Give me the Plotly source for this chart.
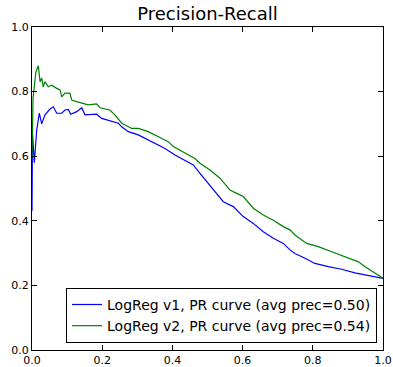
import plotly.graph_objects as go

# LogReg v1 (blue)
recall_v1 = [0.0, 0.0014, 0.0066, 0.0134, 0.0208, 0.0276, 0.037, 0.0513, 0.0607, 0.0704,
             0.0846, 0.094, 0.1034, 0.1103, 0.1274, 0.1416, 0.151, 0.170, 0.184, 0.1986,
             0.222, 0.246, 0.2556, 0.2744, 0.3028, 0.3313, 0.3598, 0.3789, 0.4074, 0.4359,
             0.4595, 0.4786, 0.4977, 0.5165, 0.545, 0.5735, 0.602, 0.6305, 0.659, 0.6875,
             0.716, 0.735, 0.749, 0.778, 0.806, 0.844, 0.882, 0.920, 0.958, 1.0]
precision_v1 = [0.43, 0.67, 0.58, 0.681, 0.733, 0.70, 0.728, 0.746, 0.753, 0.733,
                0.733, 0.743, 0.745, 0.73, 0.738, 0.75, 0.728, 0.73, 0.73, 0.717,
                0.709, 0.702, 0.691, 0.676, 0.666, 0.650, 0.635, 0.624, 0.604, 0.588,
                0.573, 0.547, 0.521, 0.495, 0.459, 0.444, 0.413, 0.392, 0.366, 0.346,
                0.330, 0.310, 0.299, 0.284, 0.268, 0.258, 0.250, 0.239, 0.232, 0.222]

# LogReg v2 (green)
recall_v2 = [0.0, 0.001, 0.003, 0.011, 0.018, 0.023, 0.0276, 0.032, 0.037, 0.0464,
             0.056, 0.0704, 0.080, 0.0846, 0.094, 0.108, 0.113, 0.127, 0.146, 0.160,
             0.184, 0.194, 0.222, 0.236, 0.2556, 0.284, 0.303, 0.331, 0.360, 0.388,
             0.4026, 0.431, 0.464, 0.4786, 0.507, 0.5356, 0.564, 0.583, 0.602, 0.6305,
             0.659, 0.6875, 0.716, 0.735, 0.749, 0.7826, 0.8157, 0.854, 0.892, 0.930,
             0.949, 0.977, 1.0]
precision_v2 = [0.60, 0.72, 0.78, 0.86, 0.88, 0.83, 0.842, 0.815, 0.831, 0.815,
                0.82, 0.81, 0.805, 0.784, 0.795, 0.795, 0.774, 0.769, 0.764, 0.759,
                0.762, 0.75, 0.743, 0.728, 0.702, 0.686, 0.686, 0.676, 0.66, 0.645,
                0.63, 0.614, 0.593, 0.578, 0.557, 0.532, 0.495, 0.485, 0.475, 0.439,
                0.418, 0.402, 0.382, 0.372, 0.356, 0.330, 0.320, 0.304, 0.289, 0.273,
                0.258, 0.237, 0.222]

labels = ["LogReg v1, PR curve (avg prec=0.50)", "LogReg v2, PR curve (avg prec=0.54)"]
tick_vals = [0.0, 0.2, 0.4, 0.6, 0.8, 1.0]
tick_text = ["0.0", "0.2", "0.4", "0.6", "0.8", "1.0"]

fig = go.Figure()
fig.add_trace(go.Scatter(x=recall_v1, y=precision_v1, mode="lines", name=labels[0],
                         line=dict(color="#0000ff", width=1.2)))
fig.add_trace(go.Scatter(x=recall_v2, y=precision_v2, mode="lines", name=labels[1],
                         line=dict(color="#008000", width=1.2)))

axis_common = dict(
    range=[0, 1], tickvals=tick_vals, ticktext=tick_text, automargin=False,
    showgrid=False, zeroline=False, showline=True, linecolor="black", linewidth=1,
    mirror="allticks", ticks="inside", ticklen=5, tickcolor="black", tickwidth=1,
    tickfont=dict(family="DejaVu Sans", size=11, color="black"),
)

fig.update_layout(
    width=393, height=367,
    margin=dict(l=32, r=10, t=27, b=17),
    paper_bgcolor="white", plot_bgcolor="white",
    title=dict(text="Precision-Recall", x=(32 + 383) / 2 / 393, xanchor="center",
               y=1 - 14 / 367, yanchor="middle",
               font=dict(family="DejaVu Sans", size=18, color="black")),
    xaxis=axis_common,
    yaxis=axis_common,
    showlegend=True,
    legend=dict(x=0.983, xanchor="right", y=0.022, yanchor="bottom",
                bgcolor="white", bordercolor="black", borderwidth=1,
                font=dict(family="DejaVu Sans", size=14, color="black"),
                tracegroupgap=0, itemwidth=30),
)

fig.write_html("out.html")
